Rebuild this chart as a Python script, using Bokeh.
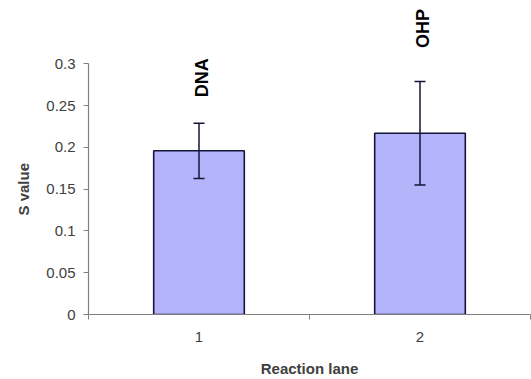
from bokeh.plotting import figure
from bokeh.models import Range1d, FixedTicker, ColumnDataSource, Whisker, TeeHead, Title
from bokeh.core.properties import value
from bokeh.embed import file_html
from bokeh.resources import INLINE
import math

lanes = [1, 2]
lane_labels = ["1", "2"]
s_values = [0.196, 0.217]
s_errors = [0.033, 0.062]
bar_names = ["DNA", "OHP"]
name_y = [0.260, 0.319]
y_ticks = [0, 0.05, 0.1, 0.15, 0.2, 0.25, 0.3]
y_tick_labels = ["0", "0.05", "0.1", "0.15", "0.2", "0.25", "0.3"]

FONT = "Liberation Sans"

p = figure(width=531, height=379, output_backend="svg", toolbar_location=None,
           x_range=Range1d(0.5, 2.5), y_range=Range1d(0, 0.376),
           min_border_left=86, min_border_right=1, min_border_top=0, min_border_bottom=62)
p.outline_line_color = None
p.grid.grid_line_color = None
p.background_fill_color = "white"

src = ColumnDataSource(dict(x=lanes, top=s_values,
                            upper=[v + e for v, e in zip(s_values, s_errors)],
                            lower=[v - e for v, e in zip(s_values, s_errors)],
                            name=bar_names, ny=name_y))

p.vbar(x="x", top="top", width=0.41, bottom=0, source=src,
       fill_color="#b4b4fa", line_color="#15153a", line_width=1.6)

w = Whisker(base="x", upper="upper", lower="lower", source=src, level="overlay",
            line_color="#15153a", line_width=1.5,
            upper_head=TeeHead(size=11, line_color="#15153a", line_width=1.5),
            lower_head=TeeHead(size=11, line_color="#15153a", line_width=1.5))
p.add_layout(w)

p.text(x="x", y="ny", text="name", source=src, angle=math.pi / 2,
       text_align="left", text_baseline="middle", x_offset=3,
       text_font=value(FONT), text_font_style="bold", text_font_size="18px",
       text_color="black")

# axes
for ax in (p.xaxis[0], p.yaxis[0]):
    ax.axis_line_color = "#7f7f7f"
    ax.axis_line_width = 1.2
    ax.major_tick_line_color = "#7f7f7f"
    ax.minor_tick_line_color = "#7f7f7f"
    ax.major_label_text_font = FONT
    ax.major_label_text_font_size = "15px"
    ax.major_label_text_color = "#404040"
    ax.axis_label_text_font = FONT
    ax.axis_label_text_font_style = "bold"
    ax.axis_label_text_font_size = "15px"
    ax.axis_label_text_color = "#404040"

p.yaxis.ticker = FixedTicker(ticks=y_ticks, minor_ticks=[])
p.yaxis.major_label_overrides = {t: l for t, l in zip(y_ticks, y_tick_labels)}
p.yaxis.major_tick_out = 5
p.yaxis.major_tick_in = 0
p.yaxis.major_label_standoff = 8
p.yaxis.bounds = (0, 0.3)

ytitle = Title(text="S value", align="left", offset=99, standoff=24,
               text_font=FONT, text_font_style="bold", text_font_size="15px",
               text_color="#404040")
p.add_layout(ytitle, "left")

p.xaxis.ticker = FixedTicker(ticks=lanes, minor_ticks=[0.5, 1.5, 2.5])
p.xaxis.major_label_overrides = {t: l for t, l in zip(lanes, lane_labels)}
p.xaxis.major_tick_line_alpha = 0
p.xaxis.major_tick_out = 5
p.xaxis.major_tick_in = 0
p.xaxis.minor_tick_out = 5
p.xaxis.minor_tick_in = 0
p.xaxis.major_label_standoff = 12
p.xaxis.axis_label = "Reaction lane"
p.xaxis.axis_label_standoff = 15

open("out.html", "w").write(file_html(p, INLINE))
